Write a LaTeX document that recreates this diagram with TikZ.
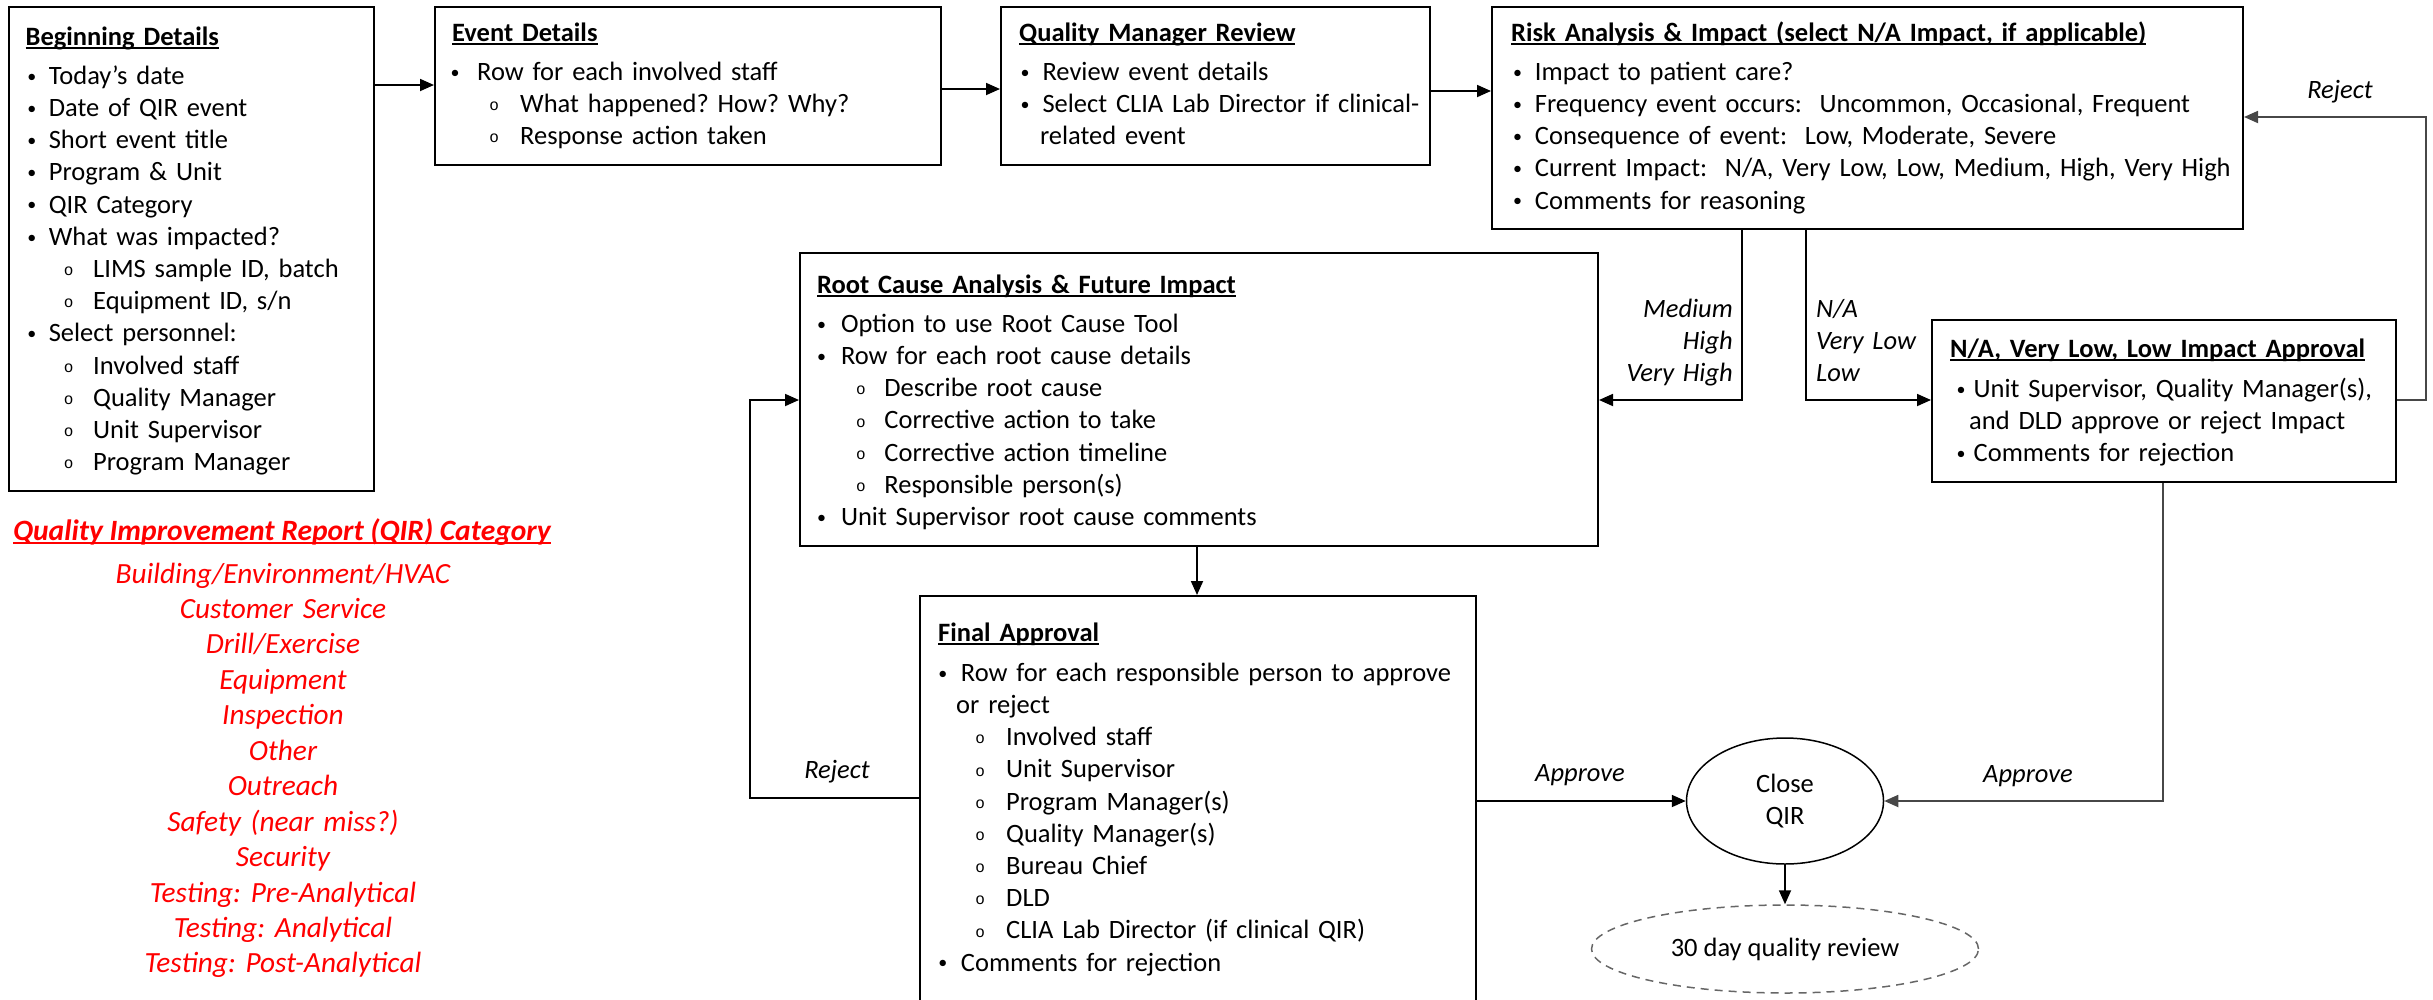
\documentclass[tikz,border=0pt]{standalone}
\usepackage{fontspec}
\setmainfont{Carlito}
\newfontfamily\subfont{Liberation Mono}
\usetikzlibrary{arrows.meta,shapes.geometric}
\newcommand\bi[2]{\hspace*{#1pt}\makebox[0pt]{\raisebox{2.2pt}{\fontsize{18}{18}\selectfont •}}\hspace*{#2pt}}
\newcommand\si[2]{\hspace*{#1pt}\makebox[0pt]{\raisebox{1.8pt}{\subfont\fontsize{16}{16}\selectfont o}}\hspace*{#2pt}}
\newcommand\myul[1]{\setbox0=\hbox{#1}\rlap{\rule[-3.5pt]{\wd0}{1.6pt}}\box0}
\newcommand\boxat[5]{\node[box, anchor=north west, minimum width={#4-#2}, minimum height={#5-#3}] (#1) at (#2,#3) {};}
\tikzset{
 box/.style={draw, line width=2pt, inner sep=0pt},
 txt/.style={inner sep=0pt, align=left, anchor=base west, font=\fontsize{26.5}{32.2}\selectfont\frenchspacing},
 lbl/.style={inner sep=0pt, font=\fontsize{26.5}{32.2}\selectfont\itshape},
 arr/.style={line width=1.8pt, -{Triangle[length=14pt,width=12pt]}},
 garr/.style={arr, draw=black!72},
 redt/.style={text=red, inner sep=0pt, font=\fontsize{29.3}{35.45}\selectfont\itshape\frenchspacing},
}
\begin{document}
\begin{tikzpicture}[x=1pt,y=-1pt]
\useasboundingbox (0,0) rectangle (2433,999);
% boxes
\boxat{bd}{8}{6}{373}{490}
\boxat{ed}{434}{6}{940}{164}
\boxat{qmr}{1000}{6}{1429}{164}
\boxat{ra}{1491}{6}{2242}{228}
\boxat{rc}{799}{252}{1597}{545}
\boxat{na}{1931}{319}{2395}{481}
\boxat{fa}{919}{595}{1475}{1012}
% box texts
\node[txt, text width=340pt] (bdtxt) at (24,45) {\hspace*{1.5pt}\myul{\bfseries Beginning Details}\\[7pt]
\bi{7.6}{17}Today’s date\\
\bi{7.6}{17}Date of QIR event\\
\bi{7.6}{17}Short event title\\
\bi{7.6}{17}Program \& Unit\\
\bi{7.6}{17}QIR Category\\
\bi{7.6}{17}What was impacted?\\
\si{44.4}{24.6}LIMS sample ID, batch\\
\si{44.4}{24.6}Equipment ID, s/n\\
\bi{7.6}{17}Select personnel:\\
\si{44.4}{24.6}Involved staff\\
\si{44.4}{24.6}Quality Manager\\
\si{44.4}{24.6}Unit Supervisor\\
\si{44.4}{24.6}Program Manager};
\node[txt, text width=480pt] (edtxt) at (446,41) {\hspace*{6pt}\myul{\bfseries Event Details}\\[7pt]
\bi{9}{22}Row for each involved staff\\
\si{48}{26}What happened? How? Why?\\
\si{48}{26}Response action taken};
\node[txt, text width=410pt] (qmrtxt) at (1015,41) {\hspace*{4pt}\myul{\bfseries Quality Manager Review}\\[7pt]
\bi{10}{17.3}Review event details\\
\bi{10}{17.3}Select CLIA Lab Director if clinical-\\
\hspace*{24.8pt}related event};
\node[txt, text width=730pt] (ratxt) at (1508,41) {\hspace*{3pt}\myul{\bfseries Risk Analysis \& Impact (select N/A Impact, if applicable)}\\[7pt]
\bi{9.5}{17.2}Impact to patient care?\\
\bi{9.5}{17.2}Frequency event occurs:~ Uncommon, Occasional, Frequent\\
\bi{9.5}{17.2}Consequence of event:~ Low, Moderate, Severe\\
\bi{9.5}{17.2}Current Impact:~ N/A, Very Low, Low, Medium, High, Very High\\
\bi{9.5}{17.2}Comments for reasoning};
\node[txt, text width=770pt] (rctxt) at (813,293) {\hspace*{4pt}\myul{\bfseries Root Cause Analysis \& Future Impact}\\[7pt]
\bi{8.4}{19.4}Option to use Root Cause Tool\\
\bi{8.4}{19.4}Row for each root cause details\\
\si{47.8}{23.4}Describe root cause\\
\si{47.8}{23.4}Corrective action to take\\
\si{47.8}{23.4}Corrective action timeline\\
\si{47.8}{23.4}Responsible person(s)\\
\bi{8.4}{19.4}Unit Supervisor root cause comments};
\node[txt, text width=530pt] (fatxt) at (934,641) {\hspace*{4pt}\myul{\bfseries Final Approval}\\[8pt]
\bi{8.7}{18}Row for each responsible person to approve\\
\hspace*{22pt}or reject\\
\si{46}{26}Involved staff\\
\si{46}{26}Unit Supervisor\\
\si{46}{26}Program Manager(s)\\
\si{46}{26}Quality Manager(s)\\
\si{46}{26}Bureau Chief\\
\si{46}{26}DLD\\
\si{46}{26}CLIA Lab Director (if clinical QIR)\\
\bi{8.7}{18}Comments for rejection};
\node[txt, text width=440pt] (natxt) at (1946,357) {\hspace*{4pt}\myul{\bfseries N/A, Very Low, Low Impact Approval}\\[8pt]
\bi{15}{12.5}Unit Supervisor, Quality Manager(s),\\
\hspace*{23pt}and DLD approve or reject Impact\\
\bi{15}{12.5}Comments for rejection};
% terminal ellipses
\node[ellipse, draw, line width=1.5pt, minimum width=197pt, minimum height=126pt, inner sep=0pt, align=center, font=\fontsize{26.5}{32}\selectfont] (close) at (1785,801) {Close\\QIR};
\node[ellipse, draw=black!60, dash pattern=on 8pt off 6pt, line width=1.5pt, minimum width=387pt, minimum height=88pt, inner sep=0pt, font=\fontsize{26.5}{32}\selectfont] (rev) at (1785,949) {30 day quality review};
% connectors
\draw[arr] (bd.east |- 0,85) -- (ed.west |- 0,85);
\draw[arr] (ed.east |- 0,89) -- (qmr.west |- 0,89);
\draw[arr] (qmr.east |- 0,91) -- (ra.west |- 0,91);
\draw[arr] (ra.south -| 1742,0) |- (rc.east |- 0,400);
\draw[arr] (ra.south -| 1806,0) |- (na.west |- 0,400);
\coordinate (rjc) at (2426,400);
\draw[garr] (na.east |- rjc) -- (rjc) |- (ra.east |- 0,117);
\draw[garr] (na.south -| 2163,0) |- (close.east);
\draw[arr] (fa.east |- close.west) -- (close.west);
\coordinate (rjl) at (750,798);
\draw[arr] (fa.west |- rjl) -- (rjl) |- (rc.west |- 0,400);
\draw[arr] (rc.south -| 1197,0) -- (fa.north -| 1197,0);
\draw[arr] (close.south) -- (rev.north);
% connector labels
\node[lbl] (lrj1) at (2340,92) {Reject};
\node[lbl, text width=140pt, align=right, anchor=base east] (lhi) at (1733,317) {Medium\\High\\Very High};
\node[lbl, text width=140pt, align=left, anchor=base west] (llo) at (1816,317) {N/A\\Very Low\\Low};
\node[lbl] (lrj2) at (837,772) {Reject};
\node[lbl] (lap1) at (1580,775) {Approve};
\node[lbl] (lap2) at (2028,776) {Approve};
% category list
\node[redt, font=\fontsize{29.5}{32}\selectfont\bfseries\itshape, anchor=base] (cattitle) at (282,540) {\myul{Quality Improvement Report (QIR) Category}};
\node[redt, text width=560pt, align=center, anchor=base] (catlist) at (283,583) {Building/Environment/HVAC\\
Customer Service\\
Drill/Exercise\\
Equipment\\
Inspection\\
Other\\
Outreach\\
Safety (near miss?)\\
Security\\
Testing: Pre-Analytical\\
Testing: Analytical\\
Testing: Post-Analytical};
\end{tikzpicture}
\end{document}
